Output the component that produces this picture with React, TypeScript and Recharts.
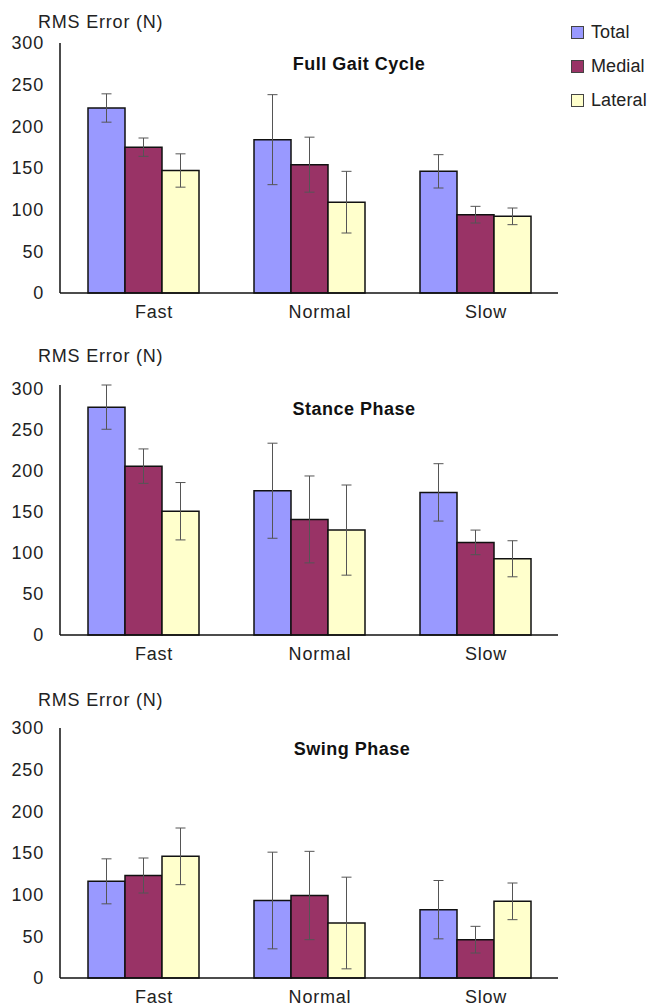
import React from "react";
import { BarChart, Bar, XAxis, YAxis, ErrorBar, Legend } from "recharts";

const categories = ["Fast", "Normal", "Slow"];
const seriesNames = ["Total", "Medial", "Lateral"];
const yTicks = [0, 50, 100, 150, 200, 250, 300];

// Full gait cycle
const fullTotal = [222, 184, 146];
const fullTotalErr = [17, 54, 20];
const fullMedial = [175, 154, 94];
const fullMedialErr = [11, 33, 10];
const fullLateral = [147, 109, 92];
const fullLateralErr = [20, 37, 10];

// Stance phase
const stanceTotal = [278, 176, 174];
const stanceTotalErr = [27, 58, 35];
const stanceMedial = [206, 141, 113];
const stanceMedialErr = [21, 53, 15];
const stanceLateral = [151, 128, 93];
const stanceLateralErr = [35, 55, 22];

// Swing phase
const swingTotal = [116, 93, 82];
const swingTotalErr = [27, 58, 35];
const swingMedial = [123, 99, 46];
const swingMedialErr = [21, 53, 16];
const swingLateral = [146, 66, 92];
const swingLateralErr = [34, 55, 22];

const COLORS = { total: "#9999ff", medial: "#993366", lateral: "#ffffcc" };
const FONT = "'Liberation Sans', Arial, sans-serif";

function buildRows(t: number[], te: number[], m: number[], me: number[], l: number[], le: number[]) {
  return categories.map((c, i) => ({
    name: c,
    total: t[i],
    totalErr: te[i],
    medial: m[i],
    medialErr: me[i],
    lateral: l[i],
    lateralErr: le[i],
  }));
}

const panels = [
  { title: "Full Gait Cycle", titleX: 359, titleY: 64, labelY: 22, top: 0, rows: buildRows(fullTotal, fullTotalErr, fullMedial, fullMedialErr, fullLateral, fullLateralErr), legend: true },
  { title: "Stance Phase", titleX: 354, titleY: 67, labelY: 14, top: 342, rows: buildRows(stanceTotal, stanceTotalErr, stanceMedial, stanceMedialErr, stanceLateral, stanceLateralErr), legend: false },
  { title: "Swing Phase", titleX: 352, titleY: 64, labelY: 15, top: 685, rows: buildRows(swingTotal, swingTotalErr, swingMedial, swingMedialErr, swingLateral, swingLateralErr), legend: false },
];

function LegendBox(props: any) {
  const items = [...(props.payload || [])].sort(
    (a: any, b: any) => seriesNames.indexOf(a.value) - seriesNames.indexOf(b.value)
  );
  return (
    <div style={{ fontFamily: FONT, fontSize: 18, letterSpacing: 0.1, color: "#222" }}>
      {items.map((it: any) => (
        <div key={it.value} style={{ display: "flex", alignItems: "center", height: 34, whiteSpace: "nowrap" }}>
          <span
            style={{
              width: 11,
              height: 11,
              background: it.payload?.fill ?? it.color,
              border: "1px solid #444",
              marginRight: 7,
              display: "inline-block",
              flexShrink: 0,
            }}
          />
          <span>{it.value}</span>
        </div>
      ))}
    </div>
  );
}

function CategoryTick(props: any) {
  const { x, y, payload } = props;
  return (
    <text x={x + 11} y={y + 23} textAnchor="middle" fontSize={18} letterSpacing={0.8} fill="#222" fontFamily={FONT}>
      {payload.value}
    </text>
  );
}

function Panel({ p }: { p: (typeof panels)[number] }) {
  return (
    <div style={{ position: "absolute", left: 0, top: p.top, width: 651, height: 342 }}>
      <div
        style={{
          position: "absolute",
          left: 38,
          top: p.labelY - 10,
          fontFamily: FONT,
          fontSize: 18,
          letterSpacing: 0.8,
          lineHeight: "20px",
          color: "#222",
          whiteSpace: "nowrap",
        }}
      >
        RMS Error (N)
      </div>
      <div
        style={{
          position: "absolute",
          left: p.titleX - 150,
          width: 300,
          top: p.titleY - 10,
          textAlign: "center",
          fontFamily: FONT,
          fontSize: 18,
          letterSpacing: 0.5,
          fontWeight: "bold",
          lineHeight: "20px",
          color: "#111",
          zIndex: 2,
        }}
      >
        {p.title}
      </div>
      <BarChart
        width={651}
        height={342}
        data={p.rows}
        margin={{ top: 43, right: 93, bottom: 19, left: 10 }}
        barCategoryGap={28}
        barGap={0}
      >
        <XAxis
          dataKey="name"
          height={30}
          axisLine={{ stroke: "#111", strokeWidth: 1.5 }}
          tickLine={false}
          tickSize={0}
          tick={<CategoryTick />}
        />
        <YAxis
          width={50}
          domain={[0, 300]}
          ticks={yTicks}
          interval={0}
          axisLine={{ stroke: "#111", strokeWidth: 1.5 }}
          tickLine={false}
          tickSize={6}
          tickMargin={10}
          tick={{ fontSize: 18, fill: "#222", fontFamily: FONT, letterSpacing: 0.8 }}
        />
        {p.legend && (
          <Legend
            layout="vertical"
            align="center"
            verticalAlign="middle"
            content={<LegendBox />}
            wrapperStyle={{ left: 571, top: 15, width: 80 }}
          />
        )}
        <Bar dataKey="total" name="Total" fill={COLORS.total} stroke="#111" strokeWidth={1.5} isAnimationActive={false}>
          <ErrorBar dataKey="totalErr" width={5} stroke="#555" strokeWidth={1} direction="y" />
        </Bar>
        <Bar dataKey="medial" name="Medial" fill={COLORS.medial} stroke="#111" strokeWidth={1.5} isAnimationActive={false}>
          <ErrorBar dataKey="medialErr" width={5} stroke="#555" strokeWidth={1} direction="y" />
        </Bar>
        <Bar dataKey="lateral" name="Lateral" fill={COLORS.lateral} stroke="#111" strokeWidth={1.5} isAnimationActive={false}>
          <ErrorBar dataKey="lateralErr" width={5} stroke="#555" strokeWidth={1} direction="y" />
        </Bar>
      </BarChart>
    </div>
  );
}

export default function App() {
  return (
    <div style={{ position: "absolute", left: 0, top: 0, width: 651, height: 1007, background: "#fff", overflow: "hidden" }}>
      {panels.map((p) => (
        <Panel key={p.title} p={p} />
      ))}
    </div>
  );
}
